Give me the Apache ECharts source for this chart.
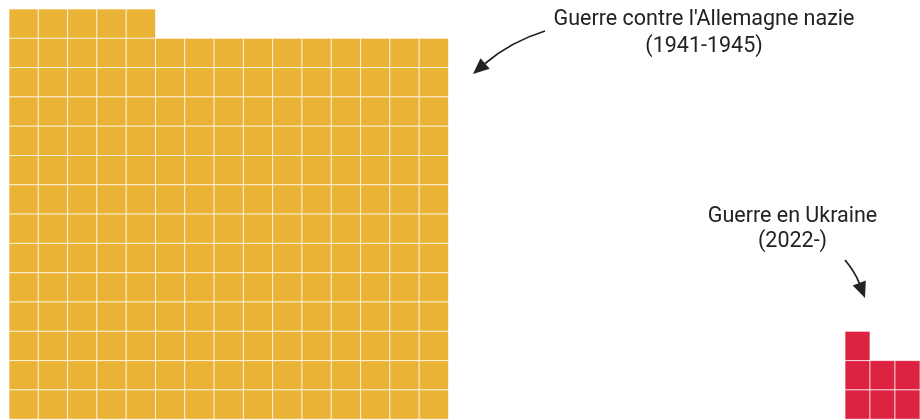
<!DOCTYPE html>
<html>
<head>
<meta charset="utf-8">
<script src="https://cdn.jsdelivr.net/npm/echarts@6/dist/echarts.min.js"></script>
<style>
  html, body { margin: 0; padding: 0; background: #fff; }
  #chart { width: 920px; height: 420px; }
</style>
</head>
<body>
<div id="chart"></div>
<script>
// nombre de carrés par ligne, de haut en bas (14 lignes visibles)
const yellowRowCounts = [5, 15, 15, 15, 15, 15, 15, 15, 15, 15, 15, 15, 15, 15];
const redRowCounts = [0, 0, 0, 0, 0, 0, 0, 0, 0, 0, 0, 1, 3, 3];
const labels = ["Guerre contre l'Allemagne nazie\n(1941-1945)", "Guerre en Ukraine\n(2022-)"];

const CELL = 29.3;
const ROWS = yellowRowCounts.length;

// transforme les comptes par ligne en cellules [colonne, ligne]
function toCells(rowCounts) {
  const cells = [];
  rowCounts.forEach((n, row) => {
    for (let c = 0; c < n; c++) cells.push([c, row]);
  });
  return cells;
}

function cellSeries(idx, color, cells) {
  return {
    type: 'custom',
    xAxisIndex: idx,
    yAxisIndex: idx,
    data: cells,
    renderItem: (params, api) => {
      const p = api.coord([api.value(0), api.value(1)]);
      const s = api.size([1, 1]);
      return {
        type: 'rect',
        shape: { x: p[0], y: p[1], width: s[0], height: s[1] },
        style: { fill: color, stroke: 'rgba(255,255,255,0.65)', lineWidth: 1 }
      };
    }
  };
}

// flèche courbe : début, point de contrôle, pointe
function arrow(x1, y1, cx, cy, tx, ty) {
  const dx = tx - cx, dy = ty - cy;
  const len = Math.sqrt(dx * dx + dy * dy);
  const ux = dx / len, uy = dy / len;
  const headLen = 16, half = 7;
  const bx = tx - ux * headLen, by = ty - uy * headLen;
  return [
    {
      type: 'bezierCurve',
      shape: { x1: x1, y1: y1, cpx1: cx, cpy1: cy, x2: bx, y2: by },
      style: { stroke: '#222', lineWidth: 1.8, fill: null }
    },
    {
      type: 'polygon',
      shape: { points: [[tx, ty], [bx - uy * half, by + ux * half], [bx + uy * half, by - ux * half]] },
      style: { fill: '#222' }
    }
  ];
}

const chart = echarts.init(document.getElementById('chart'));

const axisBase = { show: false, splitLine: { show: false } };

chart.setOption({
  animation: false,
  grid: [
    { left: 9, top: 9, width: 15 * CELL, height: ROWS * CELL },
    { left: 845, top: 9, width: 3 * CELL, height: ROWS * CELL }
  ],
  xAxis: [
    Object.assign({ type: 'value', gridIndex: 0, min: 0, max: 15 }, axisBase),
    Object.assign({ type: 'value', gridIndex: 1, min: 0, max: 3 }, axisBase)
  ],
  yAxis: [
    Object.assign({ type: 'value', gridIndex: 0, min: 0, max: ROWS, inverse: true }, axisBase),
    Object.assign({ type: 'value', gridIndex: 1, min: 0, max: ROWS, inverse: true }, axisBase)
  ],
  series: [
    cellSeries(0, '#EAB336', toCells(yellowRowCounts)),
    cellSeries(1, '#DC2341', toCells(redRowCounts))
  ],
  graphic: [
    {
      type: 'text', x: 704, y: 33,
      style: {
        text: labels[0], font: '21.5px Roboto', fill: '#222',
        textAlign: 'center', textVerticalAlign: 'middle', lineHeight: 26.5
      }
    },
    {
      type: 'text', x: 792.5, y: 229,
      style: {
        text: labels[1], font: '21.5px Roboto', fill: '#222',
        textAlign: 'center', textVerticalAlign: 'middle', lineHeight: 25
      }
    }
  ].concat(arrow(545, 31, 510, 42, 473, 74), arrow(845, 260, 855, 272, 865, 298))
});
</script>
</body>
</html>
